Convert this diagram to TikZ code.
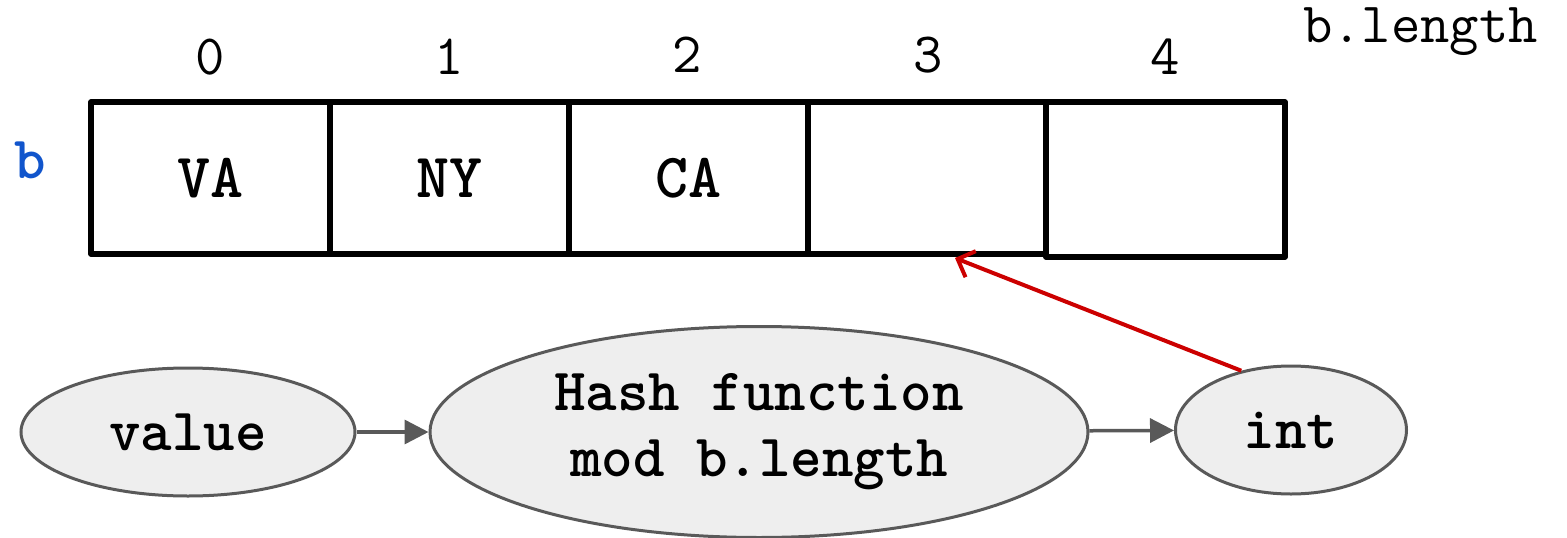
\documentclass[tikz,border=0pt]{standalone}
\usepackage{fontspec}
\usetikzlibrary{shapes.geometric,arrows.meta}
\definecolor{edgegray}{HTML}{595959}
\definecolor{fillgray}{HTML}{EEEEEE}
\definecolor{redarrow}{HTML}{CC0000}
\definecolor{blueb}{HTML}{1155CC}
\tikzset{
  cell/.style={draw=black, line width=5.5pt, rectangle, minimum width=239pt, minimum height=152pt, inner sep=0pt, line join=round,
    font=\fontsize{63}{66}\selectfont\ttfamily\bfseries},
  idx/.style={font=\fontsize{57}{60}\selectfont\ttfamily, inner sep=0pt},
  oval/.style={draw=edgegray, fill=fillgray, line width=3pt, ellipse, inner sep=0pt,
    font=\fontsize{60}{66}\selectfont\ttfamily\bfseries, align=center},
  flow/.style={draw=edgegray, line width=3.5pt, -{Triangle[length=24pt,width=24pt]}},
  hit/.style={draw=redarrow, line width=4pt, -{Straight Barb[length=14pt,width=28pt,line width=4pt]}}
}
\begin{document}
\begin{tikzpicture}[x=1pt,y=-1pt]
\useasboundingbox (0,0) rectangle (1567,538);
% cells
\node[cell] (c0) at (210.5,178) {VA};
\node[cell] (c1) at (449.5,178) {NY};
\node[cell] (c2) at (688.5,178) {CA};
\node[cell] (c3) at (927,178) {};
\node[cell, minimum height=155pt] (c4) at (1165.5,179.5) {};
% indices
\node[idx] (i0) at (210,57) {0};
\node[idx] (i1) at (449,57) {1};
\node[idx] (i2) at (687,55) {2};
\node[idx] (i3) at (928,55) {3};
\node[idx] (i4) at (1165,57) {4};
\node[idx, anchor=west] (len) at (1303,32) {b.length};
\node[font=\fontsize{60}{62}\selectfont\ttfamily\bfseries, text=blueb, inner sep=0pt] (b) at (30,160) {b};
% ellipses
\node[oval, minimum width=334pt, minimum height=128pt] (value) at (188,432) {value};
\node[oval, minimum width=658pt, minimum height=211pt] (hash) at (759,432) {Hash function\\mod b.length};
\node[oval, minimum width=231pt, minimum height=128pt] (int) at (1291,430) {int};
% connectors
\draw[flow] (value) -- (hash);
\draw[flow] (hash) -- (int);
\coordinate (tip) at (955,258);
\draw[hit] (int.130) -- (tip);
\end{tikzpicture}
\end{document}
